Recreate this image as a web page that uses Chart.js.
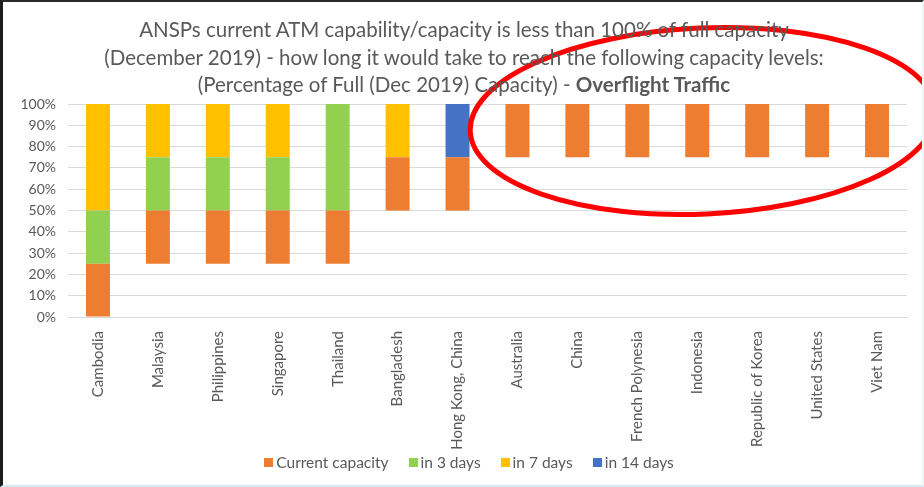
<!DOCTYPE html>
<html>
<head>
<meta charset="utf-8">
<script src="https://cdn.jsdelivr.net/npm/chart.js@4.4.3/dist/chart.umd.min.js"></script>
<style>
  html, body { margin: 0; padding: 0; background: #fff; }
  #wrap { position: relative; width: 924px; height: 487px; overflow: hidden; font-family: Lato, "Open Sans", sans-serif; }
  #chart { position: absolute; left: 0; top: 0; }
  #title { position: absolute; left: 0; top: 16px; width: 928px; text-align: center; color: #595959; font-size: 20.5px; line-height: 27.5px; }
  #legend { position: absolute; left: 0; top: 452px; width: 938px; display: flex; justify-content: center; gap: 20px;
            color: #595959; font-size: 15.5px; line-height: 20px; }
  #legend span.item { display: flex; align-items: center; white-space: nowrap; }
  #legend i { display: inline-block; width: 9px; height: 9px; margin-right: 3px; }
  #frame { position: absolute; left: 0; top: 0; width: 924px; height: 487px; box-sizing: border-box; pointer-events: none;
           border-left: 3px solid #1c1c1c; border-top: 2px solid #2a2a2a; border-right: 2px solid #eef6f8; border-bottom: 2px solid #d4ecf2; }
</style>
</head>
<body>
<div id="wrap">
  <canvas id="chart" width="924" height="487"></canvas>
  <div id="title">ANSPs current ATM capability/capacity is less than 100% of full capacity<br>(December 2019) - how long it would take to reach the following capacity levels:<br>(Percentage of Full (Dec 2019) Capacity) - <b>Overflight Traffic</b></div>
  <div id="legend"></div>
  <div id="frame"></div>
</div>
<script>
const categories = ["Cambodia", "Malaysia", "Philippines", "Singapore", "Thailand", "Bangladesh", "Hong Kong, China",
  "Australia", "China", "French Polynesia", "Indonesia", "Republic of Korea", "United States", "Viet Nam"];

// floating bars: [from %, to %]
const currentCapacity = [[0, 25], [25, 50], [25, 50], [25, 50], [25, 50], [50, 75], [50, 75],
  [75, 100], [75, 100], [75, 100], [75, 100], [75, 100], [75, 100], [75, 100]];
const in3Days = [[25, 50], [50, 75], [50, 75], [50, 75], [50, 100], null, null,
  null, null, null, null, null, null, null];
const in7Days = [[50, 100], [75, 100], [75, 100], [75, 100], null, [75, 100], null,
  null, null, null, null, null, null, null];
const in14Days = [null, null, null, null, null, null, [75, 100],
  null, null, null, null, null, null, null];

const yTicks = [0, 10, 20, 30, 40, 50, 60, 70, 80, 90, 100];

const textColor = "#595959";
const fontFamily = "Lato, 'Open Sans', sans-serif";

// red hand-drawn ellipse annotation
const ellipsePlugin = {
  id: "ellipse",
  afterDraw(chart) {
    const ctx = chart.ctx;
    ctx.save();
    ctx.strokeStyle = "#ff0000";
    ctx.lineWidth = 5;
    ctx.beginPath();
    ctx.ellipse(703, 121, 233, 93, -0.045, 0, Math.PI * 2);
    ctx.stroke();
    ctx.restore();
  }
};

function mk(label, data, color) {
  return { label, data, backgroundColor: color, borderWidth: 0, barPercentage: 0.8, categoryPercentage: 0.5 };
}

const chart = new Chart(document.getElementById("chart"), {
  type: "bar",
  data: {
    labels: categories,
    datasets: [
      mk("Current capacity", currentCapacity, "#ed7d31"),
      mk("in 3 days", in3Days, "#92d050"),
      mk("in 7 days", in7Days, "#ffc000"),
      mk("in 14 days", in14Days, "#4472c4"),
    ],
  },
  options: {
    responsive: false,
    animation: false,
    layout: { padding: { left: 0, right: 17, top: 104, bottom: 36 } },
    scales: {
      x: {
        stacked: true,
        grid: { display: false },
        border: { display: true, color: "#d9d9d9", width: 1 },
        ticks: { color: textColor, font: { family: fontFamily, size: 15 }, minRotation: 90, maxRotation: 90, padding: 6, autoSkip: false },
        afterFit(s) { s.height = 134; },
      },
      y: {
        stacked: false,
        min: 0,
        max: 100,
        afterBuildTicks(s) { s.ticks = yTicks.map(v => ({ value: v })); },
        grid: { color: "#d9d9d9", drawTicks: false },
        border: { display: false },
        ticks: { color: textColor, font: { family: fontFamily, size: 14 }, padding: 12, callback: v => v + "%" },
        afterFit(s) { s.width = 68; },
      },
    },
    plugins: {
      title: { display: false },
      tooltip: { enabled: false },
      legend: { display: false },
    },
  },
  plugins: [ellipsePlugin],
});

// legend built from the datasets
const legendEl = document.getElementById("legend");
chart.data.datasets.forEach(ds => {
  const item = document.createElement("span");
  item.className = "item";
  item.innerHTML = `<i style="background:${ds.backgroundColor}"></i>${ds.label}`;
  legendEl.appendChild(item);
});
</script>
</body>
</html>
